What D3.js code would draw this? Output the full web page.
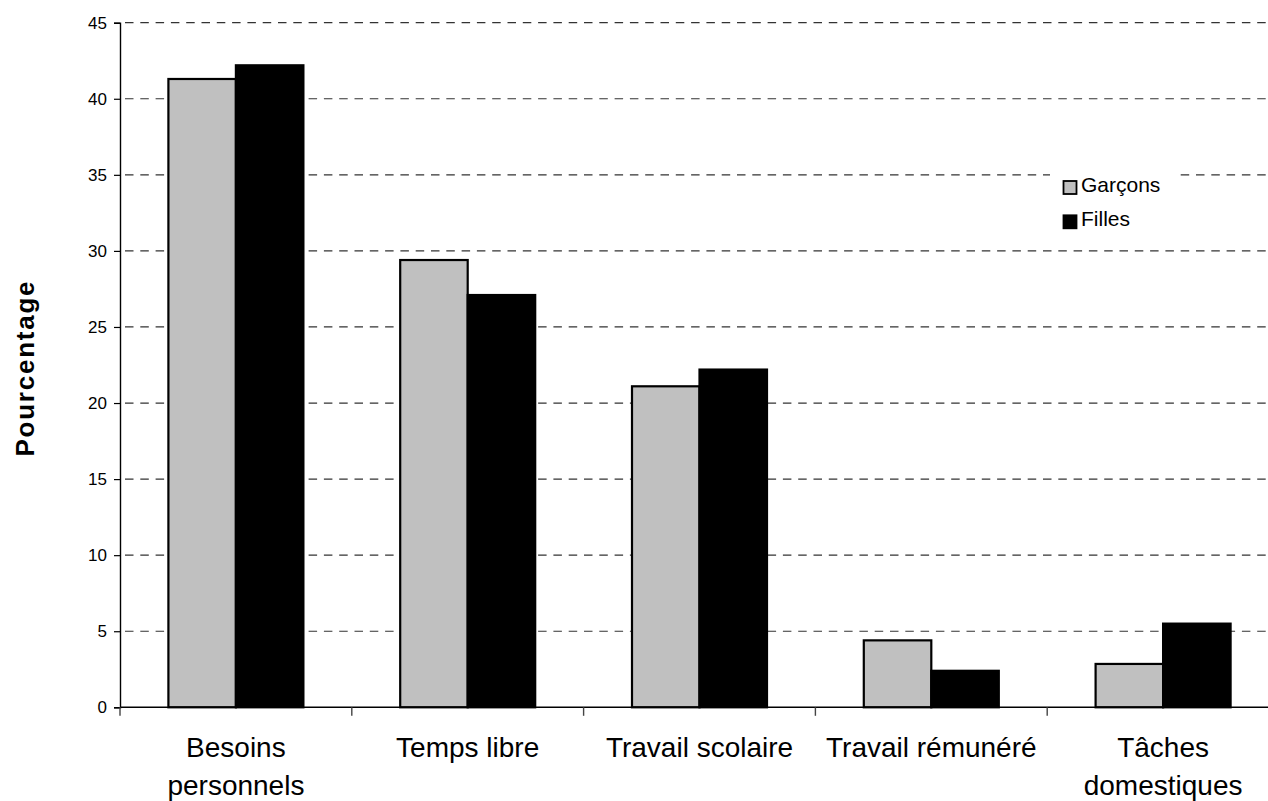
<!DOCTYPE html>
<html>
<head>
<meta charset="utf-8">
<script src="https://cdn.jsdelivr.net/npm/d3@7"></script>
<style>
  html, body { margin: 0; padding: 0; background: #fff; }
  svg { display: block; font-family: "Liberation Sans", Arial, sans-serif; }
</style>
</head>
<body>
<svg id="chart" width="1268" height="801"></svg>
<script>
// ---- data ----
const categories = ["Besoins personnels", "Temps libre", "Travail scolaire", "Travail rémunéré", "Tâches domestiques"];
const categoryLines = [["Besoins", "personnels"], ["Temps libre"], ["Travail scolaire"], ["Travail rémunéré"], ["Tâches", "domestiques"]];
const seriesNames = ["Garçons", "Filles"];
const garcons = [41.3, 29.4, 21.1, 4.4, 2.85];
const filles = [42.2, 27.1, 22.2, 2.4, 5.5];
const yTicks = [0, 5, 10, 15, 20, 25, 30, 35, 40, 45];
const yTitle = "Pourcentage";

const seriesValues = [garcons, filles];
const colors = ["#c0c0c0", "#000000"];

const svg = d3.select("#chart");
const left = 120, bandW = 231.8, yTop = 22.7, yBottom = 707.3, rightEdge = 1268;

const x0 = d3.scaleBand().domain(categories).range([left, left + bandW * categories.length]).padding(0);
const x1 = d3.scaleBand().domain(seriesNames).range([0, x0.bandwidth()]).paddingInner(0).paddingOuter(0.717);
const y = d3.scaleLinear().domain([0, 45]).range([yBottom, yTop]);

// gridlines
svg.append("g").selectAll("line").data(yTicks.filter(d => d > 0)).join("line")
  .attr("x1", left).attr("x2", rightEdge)
  .attr("y1", d => y(d)).attr("y2", d => y(d))
  .attr("stroke", "#333").attr("stroke-width", 1.2)
  .attr("stroke-dasharray", "8.5,6.8").attr("stroke-dashoffset", -5);

// legend background box (covers gridline)
const lgX = 1050, lgY = 164;
svg.append("rect").attr("x", lgX).attr("y", lgY).attr("width", 128).attr("height", 76).attr("fill", "#fff");

// bars
const gBars = svg.append("g");
seriesNames.forEach((s, si) => {
  gBars.append("g").selectAll("rect").data(categories).join("rect")
    .attr("x", c => x0(c) + x1(s))
    .attr("y", (c, i) => y(seriesValues[si][i]))
    .attr("width", x1.bandwidth())
    .attr("height", (c, i) => y(0) - y(seriesValues[si][i]))
    .attr("fill", colors[si])
    .attr("stroke", "#000").attr("stroke-width", 2.2);
});

// y axis
const yAxis = d3.axisLeft(y).tickValues(yTicks).tickSize(6).tickPadding(7).tickFormat(d3.format("d"));
const gy = svg.append("g").attr("transform", `translate(${left},0)`).call(yAxis);
gy.select(".domain").attr("stroke", "#000").attr("stroke-width", 1.4);
gy.selectAll(".tick line").attr("stroke", "#000").attr("stroke-width", 1.2);
gy.selectAll(".tick text").attr("font-size", 17).attr("fill", "#000")
  .attr("font-family", "Liberation Sans, Arial, sans-serif");

// x axis line
svg.append("line").attr("x1", left).attr("x2", rightEdge).attr("y1", yBottom).attr("y2", yBottom)
  .attr("stroke", "#000").attr("stroke-width", 1.4);
// category ticks at band boundaries
const boundaries = categories.map(c => x0(c));
svg.append("g").selectAll("line").data(boundaries).join("line")
  .attr("x1", d => d).attr("x2", d => d).attr("y1", yBottom).attr("y2", yBottom + 8.5)
  .attr("stroke", "#444").attr("stroke-width", 1.4);

// category labels
const gLab = svg.append("g");
categories.forEach((c, i) => {
  const t = gLab.append("text").attr("x", x0(c) + x0.bandwidth() / 2).attr("y", 756.7)
    .attr("text-anchor", "middle").attr("font-size", 28).attr("fill", "#000");
  categoryLines[i].forEach((ln, k) => {
    t.append("tspan").attr("x", x0(c) + x0.bandwidth() / 2).attr("dy", k === 0 ? 0 : 38.3).text(ln);
  });
});

// y title
svg.append("text").attr("transform", "translate(34,369) rotate(-90)")
  .attr("text-anchor", "middle").attr("font-size", 26).attr("font-weight", "bold")
  .attr("textLength", 175).attr("lengthAdjust", "spacing").text(yTitle);

// legend
const lg = svg.append("g");
seriesNames.forEach((s, i) => {
  const cy = 187.5 + i * 34.3;
  lg.append("rect").attr("x", 1063.5).attr("y", cy - 6.5).attr("width", 13).attr("height", 13)
    .attr("fill", colors[i]).attr("stroke", "#000").attr("stroke-width", 1.8);
  lg.append("text").attr("x", 1081).attr("y", cy + 4.5).attr("font-size", 21)
    .attr("fill", "#000").text(s);
});
</script>
</body>
</html>
